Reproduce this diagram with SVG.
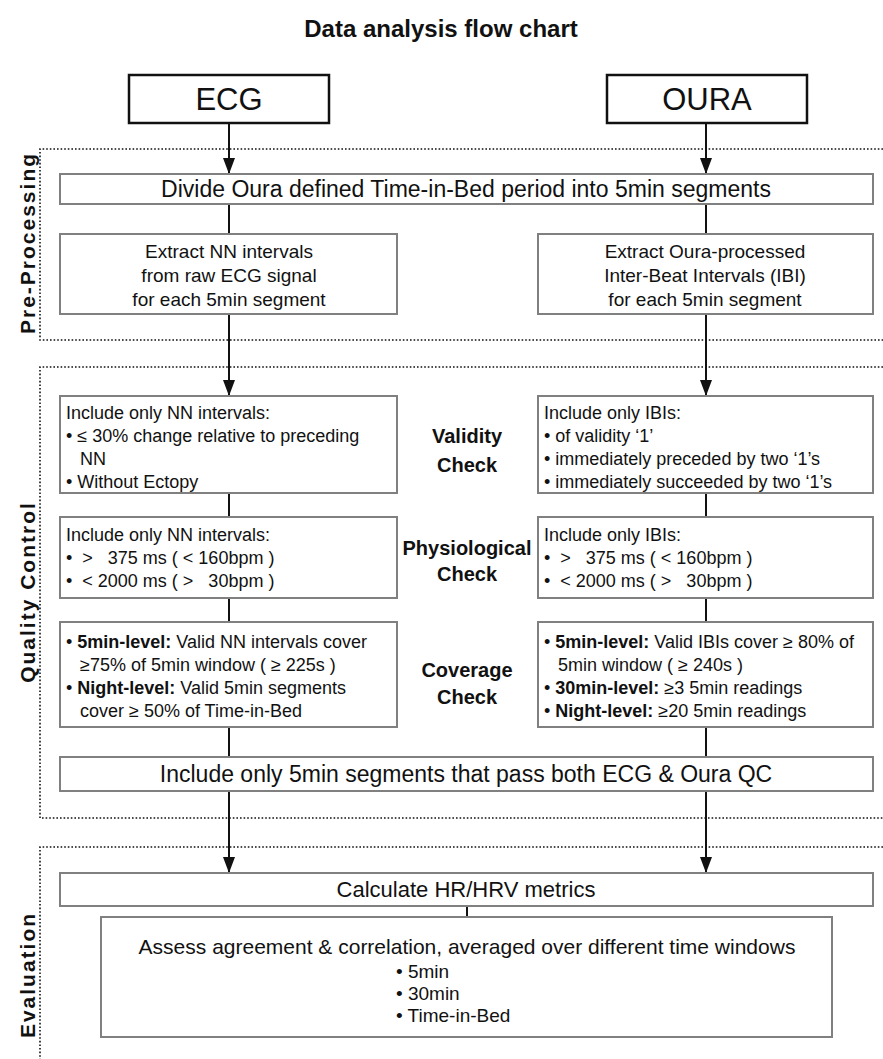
<svg xmlns="http://www.w3.org/2000/svg" width="883" height="1059" viewBox="0 0 883 1059">
<defs>
<style>
text{font-family:"Liberation Sans","DejaVu Sans",sans-serif;fill:#111}
.title{font-size:24px;font-weight:bold;text-anchor:middle}
.src{fill:#fff;stroke:#111;stroke-width:2.5}
.srct{font-size:31px;text-anchor:middle}
.box{fill:#fff;stroke:#808080;stroke-width:2}
.big{font-size:23px;text-anchor:middle}
.t{font-size:18px}
.t19{font-size:19px;text-anchor:middle}
.c{text-anchor:middle}
.mid{font-size:20px;font-weight:bold;text-anchor:middle}
.sec{font-size:21px;font-weight:bold;text-anchor:middle;letter-spacing:2px}
.dot{fill:none;stroke:#111;stroke-width:1.6;stroke-dasharray:1.6 2}
.ln{stroke:#111;stroke-width:2;fill:none}
.b{font-weight:bold}
</style>
<marker id="arr" viewBox="0 0 12 16" refX="6" refY="16" markerWidth="12" markerHeight="16" markerUnits="userSpaceOnUse" orient="0">
<path d="M0,0 L12,0 L6,16 z" fill="#111"/>
</marker>
</defs>
<rect width="883" height="1059" fill="#fff"/>
<text class="title" x="441" y="37">Data analysis flow chart</text>

<g id="sections">
<path class="dot" d="M883,149 H40 V340 H883"/>
<path class="dot" d="M883,367 H40 V818 H883"/>
<path class="dot" d="M883,847 H40 V1059"/>
<text class="sec" transform="translate(35,243) rotate(-90)">Pre-Processing</text>
<text class="sec" transform="translate(35,592) rotate(-90)">Quality Control</text>
<text class="sec" transform="translate(35,975) rotate(-90)">Evaluation</text>
</g>

<g id="connectors">
<line class="ln" x1="229" y1="123" x2="229" y2="174" marker-end="url(#arr)"/>
<line class="ln" x1="706" y1="123" x2="706" y2="174" marker-end="url(#arr)"/>
<line class="ln" x1="229" y1="204" x2="229" y2="234"/>
<line class="ln" x1="706" y1="204" x2="706" y2="234"/>
<line class="ln" x1="229" y1="314" x2="229" y2="396" marker-end="url(#arr)"/>
<line class="ln" x1="706" y1="314" x2="706" y2="396" marker-end="url(#arr)"/>
<line class="ln" x1="229" y1="493" x2="229" y2="517"/>
<line class="ln" x1="706" y1="493" x2="706" y2="517"/>
<line class="ln" x1="229" y1="598" x2="229" y2="622"/>
<line class="ln" x1="706" y1="598" x2="706" y2="622"/>
<line class="ln" x1="229" y1="727" x2="229" y2="757"/>
<line class="ln" x1="706" y1="727" x2="706" y2="757"/>
<line class="ln" x1="229" y1="791" x2="229" y2="873" marker-end="url(#arr)"/>
<line class="ln" x1="706" y1="791" x2="706" y2="873" marker-end="url(#arr)"/>
<line class="ln" x1="467" y1="906" x2="467" y2="917"/>
</g>

<g id="ecg">
<rect class="src" x="129" y="75" width="200" height="48"/>
<text class="srct" x="229" y="110">ECG</text>
</g>
<g id="oura">
<rect class="src" x="607" y="75" width="200" height="48"/>
<text class="srct" x="707" y="110">OURA</text>
</g>

<g id="divide">
<rect class="box" x="60" y="174" width="813" height="30"/>
<text class="big" x="466" y="197">Divide Oura defined Time-in-Bed period into 5min segments</text>
</g>

<g id="extract-ecg">
<rect class="box" x="60" y="234" width="337" height="80"/>
<text class="t19" x="229" y="258">Extract NN intervals</text>
<text class="t19" x="229" y="282">from raw ECG signal</text>
<text class="t19" x="229" y="306">for each 5min segment</text>
</g>
<g id="extract-oura">
<rect class="box" x="538" y="234" width="335" height="80"/>
<text class="t19" x="705" y="258">Extract Oura-processed</text>
<text class="t19" x="705" y="282">Inter-Beat Intervals (IBI)</text>
<text class="t19" x="705" y="306">for each 5min segment</text>
</g>

<g id="validity-ecg">
<rect class="box" x="60" y="396" width="337" height="97"/>
<text class="t" x="66" y="419">Include only NN intervals:</text>
<text class="t" x="66" y="442">•  ≤ 30% change relative to preceding</text>
<text class="t" x="80" y="465">NN</text>
<text class="t" x="66" y="488">•  Without Ectopy</text>
</g>
<g id="validity-label">
<text class="mid" x="467" y="443">Validity</text>
<text class="mid" x="467" y="472">Check</text>
</g>
<g id="validity-oura">
<rect class="box" x="538" y="396" width="335" height="97"/>
<text class="t" x="544" y="419">Include only IBIs:</text>
<text class="t" x="544" y="442">•  of validity ‘1’</text>
<text class="t" x="544" y="465">•  immediately preceded by two ‘1’s</text>
<text class="t" x="544" y="488">•  immediately succeeded by two ‘1’s</text>
</g>

<g id="physio-ecg">
<rect class="box" x="60" y="517" width="337" height="81"/>
<text class="t" x="66" y="541">Include only NN intervals:</text>
<text class="t" x="66" y="564" xml:space="preserve">•  &gt;   375 ms ( &lt; 160bpm )</text>
<text class="t" x="66" y="587" xml:space="preserve">•  &lt; 2000 ms ( &gt;   30bpm )</text>
</g>
<g id="physio-label">
<text class="mid" x="467" y="555">Physiological</text>
<text class="mid" x="467" y="581">Check</text>
</g>
<g id="physio-oura">
<rect class="box" x="538" y="517" width="335" height="81"/>
<text class="t" x="544" y="541">Include only IBIs:</text>
<text class="t" x="544" y="564" xml:space="preserve">•  &gt;   375 ms ( &lt; 160bpm )</text>
<text class="t" x="544" y="587" xml:space="preserve">•  &lt; 2000 ms ( &gt;   30bpm )</text>
</g>

<g id="coverage-ecg">
<rect class="box" x="60" y="622" width="337" height="105"/>
<text class="t" x="66" y="648">•  <tspan class="b">5min-level:</tspan> Valid NN intervals cover</text>
<text class="t" x="80" y="671">≥75% of 5min window ( ≥ 225s )</text>
<text class="t" x="66" y="694">•  <tspan class="b">Night-level:</tspan> Valid 5min segments</text>
<text class="t" x="80" y="717">cover ≥ 50% of Time-in-Bed</text>
</g>
<g id="coverage-label">
<text class="mid" x="467" y="677">Coverage</text>
<text class="mid" x="467" y="704">Check</text>
</g>
<g id="coverage-oura">
<rect class="box" x="538" y="622" width="335" height="105"/>
<text class="t" x="544" y="648">•  <tspan class="b">5min-level:</tspan> Valid IBIs cover ≥ 80% of</text>
<text class="t" x="558" y="671">5min window ( ≥ 240s )</text>
<text class="t" x="544" y="694">•  <tspan class="b">30min-level:</tspan> ≥3 5min readings</text>
<text class="t" x="544" y="717">•  <tspan class="b">Night-level:</tspan> ≥20 5min readings</text>
</g>

<g id="include">
<rect class="box" x="60" y="757" width="813" height="34"/>
<text class="big" x="466" y="782">Include only 5min segments that pass both ECG &amp; Oura QC</text>
</g>

<g id="calculate">
<rect class="box" x="60" y="873" width="813" height="33"/>
<text class="big" x="466" y="897" style="font-size:22px">Calculate HR/HRV metrics</text>
</g>

<g id="assess">
<rect class="box" x="101" y="917" width="731" height="120"/>
<text class="c" x="467" y="954" style="font-size:21px">Assess agreement &amp; correlation, averaged over different time windows</text>
<text class="t" x="396" y="978" style="font-size:19px">•  5min</text>
<text class="t" x="396" y="1000" style="font-size:19px">•  30min</text>
<text class="t" x="396" y="1022" style="font-size:19px">•  Time-in-Bed</text>
</g>
</svg>
